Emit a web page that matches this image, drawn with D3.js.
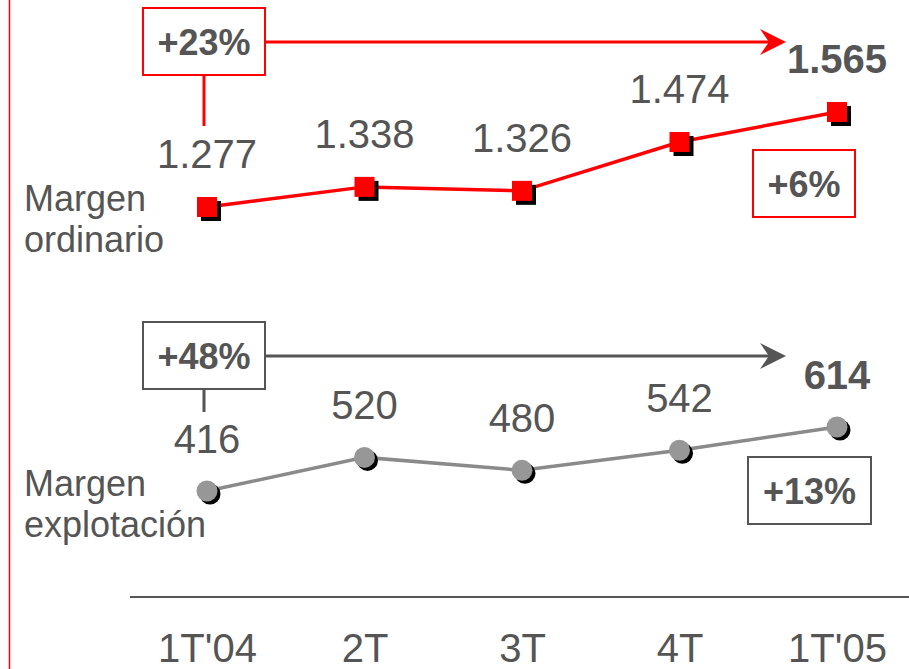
<!DOCTYPE html>
<html>
<head>
<meta charset="utf-8">
<script src="https://cdn.jsdelivr.net/npm/d3@7"></script>
<style>
  body { margin: 0; background: #fff; }
  svg { display: block; font-family: "Liberation Sans", Arial, sans-serif; }
</style>
</head>
<body>
<div id="chart"></div>
<script>
// data
var categories = ["1T'04", "2T", "3T", "4T", "1T'05"];
var ordinario = [1277, 1338, 1326, 1474, 1565];
var explotacion = [416, 520, 480, 542, 614];
var growthOrdinario = ["+23%", "+6%"];
var growthExplotacion = ["+48%", "+13%"];

var width = 909, height = 669;
var red = "#ff0000", dark = "#555555", greyLine = "#8a8a8a", greyDot = "#979797";

var fmt = d3.formatLocale({decimal: ",", thousands: ".", grouping: [3], currency: ["", ""]}).format(",d");

var svg = d3.select("#chart").append("svg")
    .attr("width", width)
    .attr("height", height);

var x = d3.scalePoint().domain(categories).range([207, 837]);
var yOrd = d3.scaleLinear().domain([1277, 1565]).range([207, 112]);
var yExp = d3.scaleLinear().domain([416, 614]).range([491, 427]);

// red rule on the left edge
svg.append("line")
    .attr("x1", 9.5).attr("x2", 9.5).attr("y1", 0).attr("y2", height)
    .attr("stroke", red).attr("stroke-width", 1.5);

// baseline + category labels
svg.append("line")
    .attr("x1", 130).attr("x2", width).attr("y1", 597).attr("y2", 597)
    .attr("stroke", dark).attr("stroke-width", 2);

var axis = svg.append("g")
    .attr("transform", "translate(0,597)")
    .call(d3.axisBottom(x).tickSize(0));
axis.select(".domain").remove();
axis.selectAll("text")
    .attr("y", 65).attr("dy", 0)
    .attr("fill", dark)
    .style("font-size", "40px")
    .style("font-family", "Liberation Sans, Arial, sans-serif");

function arrowHead(g, tipX, y, color) {
    g.append("path")
        .attr("d", "M" + tipX + "," + y + "L" + (tipX - 26) + "," + (y - 13) +
            "L" + (tipX - 17) + "," + y + "L" + (tipX - 26) + "," + (y + 13) + "Z")
        .attr("fill", color);
}

function panel(values, y, color, markerType, growth, opts) {
    var g = svg.append("g");

    // left title
    var t = g.append("text").attr("fill", dark).style("font-size", "36px");
    t.append("tspan").attr("x", 24).attr("y", opts.titleY).text("Margen");
    t.append("tspan").attr("x", 24).attr("y", opts.titleY + 41).text(opts.title2);

    // growth box over the whole period
    g.append("rect")
        .attr("x", 143).attr("y", opts.boxY).attr("width", 122).attr("height", 67)
        .attr("fill", "#fff").attr("stroke", color).attr("stroke-width", 2);
    g.append("text")
        .attr("x", 204).attr("y", opts.boxY + 47)
        .attr("text-anchor", "middle").attr("fill", dark)
        .style("font-size", "36px").style("font-weight", "bold")
        .text(growth[0]);
    g.append("line")
        .attr("x1", 204).attr("x2", 204)
        .attr("y1", opts.boxY + 67).attr("y2", opts.stemEnd)
        .attr("stroke", color).attr("stroke-width", 3);
    var ay = opts.boxY + 34;
    g.append("line")
        .attr("x1", 265).attr("x2", 772).attr("y1", ay).attr("y2", ay)
        .attr("stroke", color).attr("stroke-width", 3);
    arrowHead(g, 786, ay, color);

    // last-quarter growth box
    g.append("rect")
        .attr("x", opts.box2.x).attr("y", opts.box2.y)
        .attr("width", opts.box2.w).attr("height", 67)
        .attr("fill", "#fff").attr("stroke", color).attr("stroke-width", 2);
    g.append("text")
        .attr("x", opts.box2.x + opts.box2.w / 2).attr("y", opts.box2.y + 47)
        .attr("text-anchor", "middle").attr("fill", dark)
        .style("font-size", "36px").style("font-weight", "bold")
        .text(growth[1]);

    // line
    var line = d3.line()
        .x(function (d, i) { return x(categories[i]); })
        .y(function (d) { return y(d); });
    g.append("path")
        .datum(values)
        .attr("d", line)
        .attr("fill", "none")
        .attr("stroke", markerType === "square" ? red : greyLine)
        .attr("stroke-width", 3.5);

    // markers with black drop shadow
    values.forEach(function (v, i) {
        var cx = x(categories[i]), cy = y(v);
        if (markerType === "square") {
            g.append("rect").attr("x", cx - 10 + 4).attr("y", cy - 10 + 4)
                .attr("width", 20).attr("height", 20).attr("fill", "#000");
            g.append("rect").attr("x", cx - 10).attr("y", cy - 10)
                .attr("width", 20).attr("height", 20).attr("fill", red);
        } else {
            g.append("circle").attr("cx", cx + 3).attr("cy", cy + 3)
                .attr("r", 10.5).attr("fill", "#000");
            g.append("circle").attr("cx", cx).attr("cy", cy)
                .attr("r", 10.5).attr("fill", greyDot);
        }
    });

    // value labels
    g.selectAll("text.val")
        .data(values)
        .enter().append("text")
        .attr("class", "val")
        .attr("x", function (d, i) { return x(categories[i]); })
        .attr("y", function (d) { return y(d) - opts.labelOff; })
        .attr("text-anchor", "middle")
        .attr("fill", dark)
        .style("font-size", "40px")
        .style("font-weight", function (d, i) { return i === values.length - 1 ? "bold" : "normal"; })
        .text(function (d) { return fmt(d); });
}

panel(ordinario, yOrd, red, "square", growthOrdinario, {
    title2: "ordinario", titleY: 211, boxY: 8, stemEnd: 126,
    box2: {x: 753, y: 150, w: 102}, labelOff: 39
});

panel(explotacion, yExp, dark, "circle", growthExplotacion, {
    title2: "explotación", titleY: 496, boxY: 322, stemEnd: 412,
    box2: {x: 748, y: 457, w: 123}, labelOff: 38
});
</script>
</body>
</html>
